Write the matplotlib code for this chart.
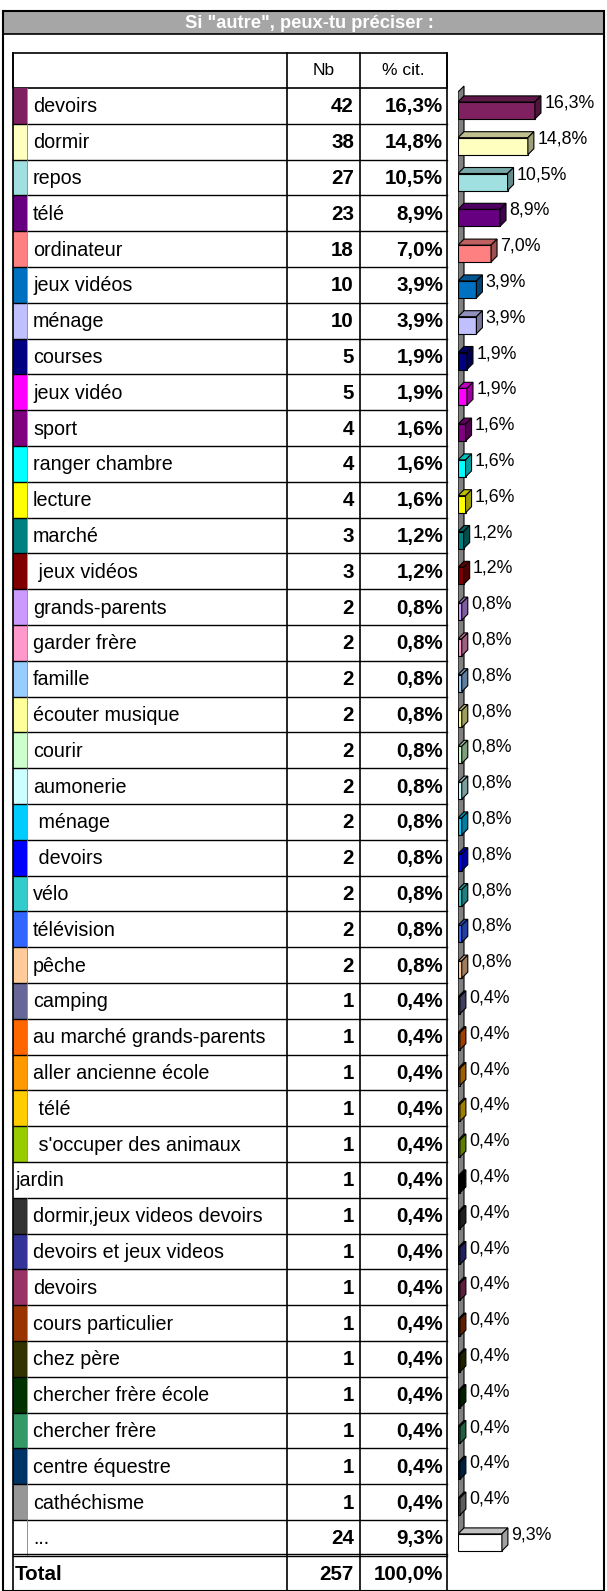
import matplotlib.pyplot as plt
from matplotlib.patches import Rectangle, Polygon
from matplotlib.colors import to_rgb

plt.rcParams['font.family'] = ['Liberation Sans', 'DejaVu Sans']

title = 'Si "autre", peux-tu préciser :'
labels = ["devoirs", "dormir", "repos", "télé", "ordinateur", "jeux vidéos", "ménage",
          "courses", "jeux vidéo", "sport", "ranger chambre", "lecture", "marché",
          " jeux vidéos", "grands-parents", "garder frère", "famille", "écouter musique",
          "courir", "aumonerie", " ménage", " devoirs", "vélo", "télévision", "pêche",
          "camping", "au marché grands-parents", "aller ancienne école", " télé",
          " s'occuper des animaux", "jardin", "dormir,jeux videos devoirs",
          "devoirs et jeux videos", "devoirs", "cours particulier", "chez père",
          "chercher frère école", "chercher frère", "centre équestre", "cathéchisme", "..."]
counts = [42, 38, 27, 23, 18, 10, 10, 5, 5, 4, 4, 4, 3, 3, 2, 2, 2, 2, 2, 2, 2, 2, 2, 2, 2,
          1, 1, 1, 1, 1, 1, 1, 1, 1, 1, 1, 1, 1, 1, 1, 24]
pcts = [16.3, 14.8, 10.5, 8.9, 7.0, 3.9, 3.9, 1.9, 1.9, 1.6, 1.6, 1.6, 1.2, 1.2,
        0.8, 0.8, 0.8, 0.8, 0.8, 0.8, 0.8, 0.8, 0.8, 0.8, 0.8,
        0.4, 0.4, 0.4, 0.4, 0.4, 0.4, 0.4, 0.4, 0.4, 0.4, 0.4, 0.4, 0.4, 0.4, 0.4, 9.3]
colors = ["#7F2060", "#FFFFC0", "#A0E0E0", "#660080", "#FF8080", "#0070C0", "#C0C0FF",
          "#000080", "#FF00FF", "#800080", "#00FFFF", "#FFFF00", "#008080", "#800000",
          "#CC99FF", "#FF99CC", "#99CCFF", "#FFFF99", "#CCFFCC", "#CCFFFF", "#00CCFF",
          "#0000FF", "#33CCCC", "#3366FF", "#FFCC99", "#666699", "#FF6600", "#FF9900",
          "#FFCC00", "#99CC00", "#000000", "#333333", "#333399", "#993366", "#993300",
          "#333300", "#003300", "#339966", "#003366", "#969696", "#FFFFFF"]
total_n = 257
total_pct = "100,0%"

W, H = 607, 1591
fig = plt.figure(figsize=(W / 100, H / 100), dpi=100)
ax = fig.add_axes([0, 0, 1, 1])
ax.set_xlim(0, W)
ax.set_ylim(H, 0)
ax.axis('off')

# table geometry (pixels)
x0, xc1, xc2, x3 = 13, 287, 360, 447
sw = 27
top = 53
head_h = 35
row_h = 35.8
y_first = top + head_h
n = len(labels)
fs = 14.2
fsb = 14.8

def fmt(v):
    return f"{v:.1f}".replace(".", ",") + "%"

# outer box + title band
ax.add_patch(Rectangle((3, 11), 601, 23, facecolor="#A6A6A6", edgecolor="black", lw=1.2))
ax.add_patch(Rectangle((3, 11), 601, H - 11, facecolor="none", edgecolor="black", lw=1.5))
ax.text(309, 23, title, color="white", fontsize=13.2, fontweight="bold",
        ha="center", va="center")

# header row
ax.add_patch(Rectangle((x0, top), x3 - x0, head_h, facecolor="white", edgecolor="black", lw=1.2))
ax.text((xc1 + xc2) / 2, top + head_h / 2, "Nb", fontsize=12.5, ha="center", va="center")
ax.text((xc2 + x3) / 2, top + head_h / 2, "% cit.", fontsize=12.5, ha="center", va="center")

for i, lab in enumerate(labels):
    y = y_first + i * row_h
    c = y + row_h / 2
    if lab != "jardin":
        ax.add_patch(Rectangle((x0, y), sw - x0, row_h, facecolor=colors[i], edgecolor="none"))
        ax.plot([sw, sw], [y, y + row_h], color="#808080", lw=0.6)
        tx = sw + 6
    else:
        tx = x0 + 2
    ax.text(tx, c + 1, lab, fontsize=fs, ha="left", va="center")
    ax.text(xc2 - 6, c + 1, str(counts[i]), fontsize=fsb, fontweight="bold", ha="right", va="center")
    ax.text(x3 - 4, c + 1, fmt(pcts[i]), fontsize=fsb, fontweight="bold", ha="right", va="center")
    ax.plot([x0, x3], [y + row_h, y + row_h], color="black", lw=1.0)

# total row
yt = y_first + n * row_h
ax.plot([x0, x3], [yt - 2, yt - 2], color="black", lw=1.0)
ax.text(x0 + 2, (yt + H) / 2 + 1, "Total", fontsize=fsb, fontweight="bold", ha="left", va="center")
ax.text(xc2 - 6, (yt + H) / 2 + 1, str(total_n), fontsize=fsb, fontweight="bold", ha="right", va="center")
ax.text(x3 - 4, (yt + H) / 2 + 1, total_pct, fontsize=fsb, fontweight="bold", ha="right", va="center")

for xv in (x0, xc1, xc2, x3):
    ax.plot([xv, xv], [top, H], color="black", lw=1.2)

# bar chart axes: x in percent, y in rows
bx_left = 458
px_per_pct = 4.72
bx = fig.add_axes([bx_left / W, 0, (W - bx_left) / W, 1])
bx.set_xlim(0, (W - bx_left) / px_per_pct)
bx.set_ylim((H - y_first) / row_h, -y_first / row_h)
bx.axis('off')
dx = 6 / px_per_pct
dy = 6 / row_h

def shade(col, f):
    r, g, b = to_rgb(col)
    return (r * f, g * f, b * f)

# back wall
wall_top, wall_bot = (92 - y_first) / row_h, (1550 - y_first) / row_h
bx.add_patch(Polygon([(0, wall_top), (dx, wall_top - dy), (dx, wall_bot - dy), (0, wall_bot)],
                     closed=True, facecolor="#808080", edgecolor="black", lw=0.8))

f_top = -4 / row_h
f_h = 17 / row_h
ys = [i + 0.5 + f_top + f_h / 2 for i in range(n)]
bx.barh(ys, pcts, height=f_h, left=0, color=colors, edgecolor="black", lw=0.8, zorder=3)
for i, p in enumerate(pcts):
    yt_ = ys[i] - f_h / 2
    yb_ = ys[i] + f_h / 2
    col = colors[i]
    if col == "#FFFFFF":
        tc, sc = "#C0C0C0", "#A0A0A0"
    else:
        tc, sc = shade(col, 0.75), shade(col, 0.62)
    bx.add_patch(Polygon([(0, yt_), (dx, yt_ - dy), (p + dx, yt_ - dy), (p, yt_)],
                         closed=True, facecolor=tc, edgecolor="black", lw=0.8, zorder=3))
    bx.add_patch(Polygon([(p, yt_), (p + dx, yt_ - dy), (p + dx, yb_ - dy), (p, yb_)],
                         closed=True, facecolor=sc, edgecolor="black", lw=0.8, zorder=3))
    bx.text(p + dx + 0.7, i + 0.42, fmt(pcts[i]), fontsize=12.8, ha="left", va="center",
            clip_on=False, zorder=4)

fig.savefig("out.png", dpi=100)
